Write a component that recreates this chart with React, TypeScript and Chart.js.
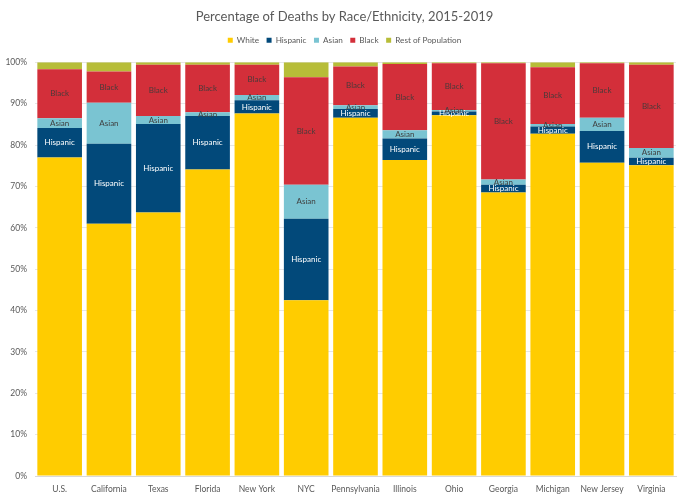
import { useEffect, useRef } from "react";
import { Chart, registerables } from "chart.js";

Chart.register(...registerables);

// Places and the share of deaths for each group (percent of all deaths)
const places = [
  "U.S.", "California", "Texas", "Florida", "New York", "NYC", "Pennsylvania",
  "Illinois", "Ohio", "Georgia", "Michigan", "New Jersey", "Virginia",
];
const white = [77.0, 61.0, 63.7, 74.1, 87.6, 42.5, 86.6, 76.4, 87.2, 68.5, 82.7, 75.7, 75.1];
const hispanic = [7.1, 19.3, 21.4, 12.9, 3.2, 19.7, 2.1, 5.2, 0.9, 1.9, 1.8, 7.7, 1.8];
const asian = [2.4, 9.9, 1.9, 0.9, 1.3, 8.2, 0.9, 2.0, 0.4, 1.3, 0.6, 3.2, 2.4];
const black = [11.8, 7.6, 12.4, 11.5, 7.3, 26.0, 9.4, 16.0, 11.3, 28.1, 13.7, 13.2, 20.1];
const rest = [1.7, 2.2, 0.6, 0.6, 0.6, 3.6, 1.0, 0.4, 0.2, 0.2, 1.2, 0.2, 0.6];

const FONT = "Lato, 'Open Sans', sans-serif";
const GREY = "#595959";
const LEGEND_GAP = 8; // extra space between the legend and the plot

// Writes the group name in the middle of the Hispanic, Asian and Black segments
const segmentNames = {
  id: "segmentNames",
  afterDatasetsDraw(chart: any) {
    const { ctx } = chart;
    ctx.save();
    ctx.font = `8px ${FONT}`;
    ctx.textAlign = "center";
    ctx.textBaseline = "middle";
    chart.data.datasets.forEach((ds: any, i: number) => {
      if (!ds.showName) return;
      const meta = chart.getDatasetMeta(i);
      meta.data.forEach((bar: any) => {
        const y = (bar.y + bar.base) / 2;
        ctx.fillStyle = ds.nameColor;
        ctx.fillText(ds.label, bar.x, y);
      });
    });
    ctx.restore();
  },
};

// Adds a little room below the legend
const legendGap = {
  id: "legendGap",
  beforeLayout(chart: any) {
    const lg = chart.legend;
    if (lg && !lg._gapAdded) {
      const fit = lg.fit.bind(lg);
      lg.fit = function () {
        fit();
        this.height += LEGEND_GAP;
      };
      lg._gapAdded = true;
    }
  },
};

export default function App() {
  const canvasRef = useRef<HTMLCanvasElement | null>(null);

  useEffect(() => {
    document.body.style.margin = "0";
    const canvas = canvasRef.current;
    if (!canvas) return;
    const chart = new Chart(canvas, {
      type: "bar",
      data: {
        labels: places,
        datasets: [
          { label: "White", data: white, backgroundColor: "#FFCC00" },
          { label: "Hispanic", data: hispanic, backgroundColor: "#02497A", showName: true, nameColor: "#FFFFFF" },
          { label: "Asian", data: asian, backgroundColor: "#7AC4D2", showName: true, nameColor: "#404040" },
          { label: "Black", data: black, backgroundColor: "#D32F3A", showName: true, nameColor: "#4a3a3a" },
          { label: "Rest of Population", data: rest, backgroundColor: "#B7BD38" },
        ] as any,
      },
      options: {
        animation: false,
        responsive: false,
        maintainAspectRatio: false,
        datasets: { bar: { categoryPercentage: 1, barPercentage: 0.905 } },
        layout: { padding: 0 },
        plugins: {
          title: {
            display: true,
            text: "Percentage of Deaths by Race/Ethnicity, 2015-2019",
            color: GREY,
            font: { family: FONT, size: 13, weight: "normal" },
            padding: { top: 9, bottom: 4 },
          },
          legend: {
            position: "top",
            labels: {
              boxWidth: 5,
              boxHeight: 5,
              padding: 7.5,
              color: GREY,
              font: { family: FONT, size: 8.2 },
            },
          },
          tooltip: { enabled: false },
        },
        scales: {
          x: {
            stacked: true,
            grid: { display: false, drawTicks: false },
            border: { color: "#D9D9D9" },
            ticks: { color: GREY, font: { family: FONT, size: 8.5 }, padding: 8, maxRotation: 0, autoSkip: false },
            afterFit(scale: any) { scale.height = 24; },
          },
          y: {
            stacked: true,
            min: 0,
            max: 100,
            grid: { color: "#E6E6E6", drawTicks: false },
            border: { display: false },
            ticks: {
              stepSize: 10,
              color: GREY,
              font: { family: FONT, size: 8.5 },
              padding: 8,
              callback: (v: any) => `${v}%`,
            },
            afterFit(scale: any) { scale.width = 35; },
          },
          // empty right-hand margin so the heading stays centred on the page
          yRight: {
            type: "linear",
            position: "right",
            min: 0,
            max: 100,
            grid: { display: false, drawTicks: false },
            border: { display: false },
            ticks: { display: false },
            afterFit(scale: any) { scale.width = 13; },
          },
        },
      } as any,
      plugins: [segmentNames, legendGap],
    });
    return () => chart.destroy();
  }, []);

  return (
    <div style={{ width: 689, height: 500 }}>
      <canvas ref={canvasRef} width={689} height={500} style={{ width: 689, height: 500, display: "block" }} />
    </div>
  );
}
